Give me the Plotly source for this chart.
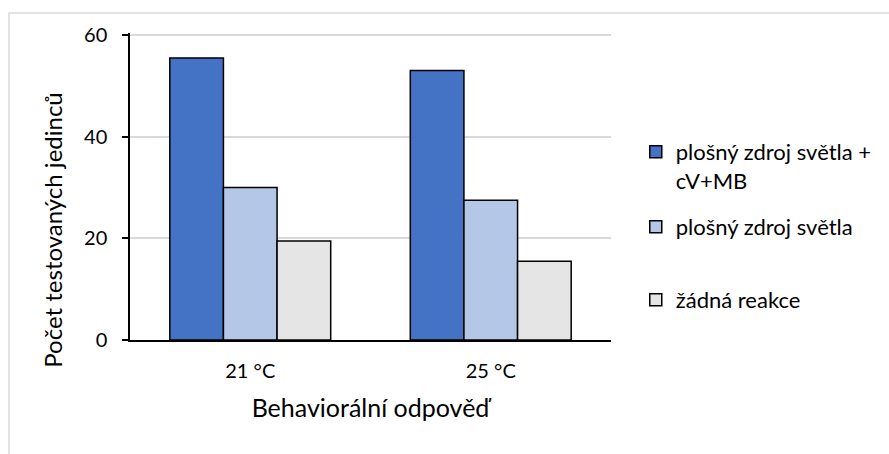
import plotly.graph_objects as go

# Temperature groups on the x axis
categories = ["21 °C", "25 °C"]

# Number of tested individuals per response type
series_names = ["plošný zdroj světla +<br>cV+MB", "plošný zdroj světla", "žádná reakce"]
values_source_cvmb = [55.5, 53.0]
values_source = [30.0, 27.5]
values_none = [19.5, 15.5]

y_ticks = [0, 20, 40, 60]

colors = ["#4472C4", "#B4C7E7", "#E5E5E5"]
series_values = [values_source_cvmb, values_source, values_none]
legend_ids = ["legend", "legend2", "legend3"]
legend_y = [0.681, 0.4365, 0.1987]

FONT = "Lato, Carlito, Calibri, sans-serif"

fig = go.Figure()
for name, vals, col, lg in zip(series_names, series_values, colors, legend_ids):
    fig.add_trace(go.Bar(
        x=categories, y=vals, name=name,
        marker=dict(color=col, line=dict(color="black", width=1.5)),
        legend=lg,
    ))

legend_common = dict(
    font=dict(family=FONT, size=22, color="black"),
    bgcolor="rgba(0,0,0,0)",
    xanchor="left", yanchor="top", x=1.0515,
    valign="top", itemwidth=30,
)

fig.update_layout(
    width=889, height=454,
    margin=dict(l=130, r=274, t=33, b=114),
    paper_bgcolor="white", plot_bgcolor="white",
    barmode="group", bargap=0.331, bargroupgap=0,
    showlegend=True,
    font=dict(family=FONT, size=20, color="black"),
    legend=dict(**legend_common, y=legend_y[0]),
    legend2=dict(**legend_common, y=legend_y[1]),
    legend3=dict(**legend_common, y=legend_y[2]),
    xaxis=dict(
        showline=True, linecolor="black", linewidth=2,
        ticks="", tickfont=dict(size=20), ticklabelstandoff=12,
        title=dict(text="Behaviorální odpověď", font=dict(size=25), standoff=18),
    ),
    yaxis=dict(
        range=[0, 60.4], tickvals=y_ticks, ticktext=[str(v) for v in y_ticks],
        showline=True, linecolor="black", linewidth=1.5,
        ticks="outside", ticklen=6, tickcolor="black", tickwidth=1.5,
        ticklabelstandoff=11,
        showgrid=True, gridcolor="#D9D9D9", gridwidth=1.5,
        zeroline=False, tickfont=dict(size=20),
    ),
    annotations=[dict(
        text="Počet testovaných jedinců", textangle=-90,
        xref="paper", yref="paper", x=-0.163, y=0.358,
        xanchor="center", yanchor="middle", showarrow=False,
        font=dict(family=FONT, size=24, color="black"),
    )],
    shapes=[dict(
        type="rect", xref="paper", yref="paper",
        x0=-0.2515, x1=1.7, y0=-0.6, y1=1.065,
        line=dict(color="#D9D9D9", width=1.5), fillcolor="rgba(0,0,0,0)",
        layer="below",
    )],
)

fig.write_html("out.html")
